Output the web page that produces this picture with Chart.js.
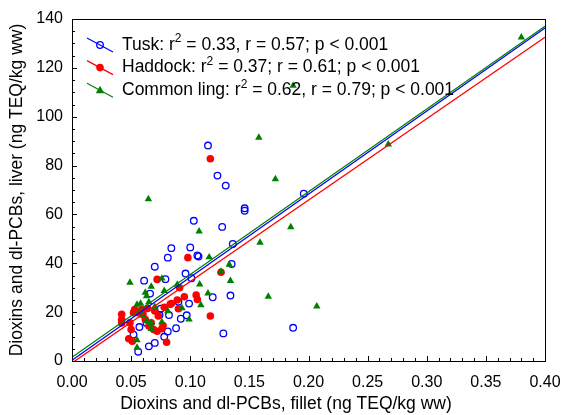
<!DOCTYPE html>
<html>
<head>
<meta charset="utf-8">
<script src="https://cdn.jsdelivr.net/npm/chart.js@4"></script>
<style>
  html, body { margin: 0; padding: 0; background: #fff; }
  #wrap { width: 566px; height: 415px; }
</style>
</head>
<body>
<div id="wrap"><canvas id="myChart" width="566" height="415"></canvas></div>
<script>
// fillet (x) vs liver (y), ng TEQ/kg ww
var tusk = [
  [0.115,88.2],[0.123,75.9],[0.130,71.8],[0.146,61.5],[0.146,62.5],[0.103,57.4],
  [0.127,54.9],[0.196,68.5],[0.136,47.9],[0.135,39.7],[0.084,46.2],[0.081,42.3],
  [0.100,46.5],[0.106,43.2],[0.107,42.8],[0.070,38.6],[0.096,35.8],[0.101,33.9],
  [0.061,32.9],[0.079,33.5],[0.066,27.6],[0.119,26.1],[0.134,26.8],[0.099,23.5],
  [0.090,24.3],[0.075,21.4],[0.092,17.3],[0.097,18.7],[0.082,18.8],[0.088,13.4],
  [0.081,12.1],[0.078,9.9],[0.070,7.4],[0.065,6.0],[0.056,3.8],[0.052,10.8],
  [0.057,13.9],[0.063,15.6],[0.074,18.8],[0.128,11.3],[0.187,13.6]
];
var haddock = [
  [0.117,82.8],[0.098,42.3],[0.126,36.3],[0.072,33.4],[0.091,30.0],[0.105,27.0],
  [0.106,25.2],[0.117,18.4],[0.089,25.0],[0.090,21.4],[0.084,23.5],[0.095,26.3],
  [0.073,18.4],[0.076,13.2],[0.072,12.2],[0.080,7.7],[0.042,19.1],[0.042,17.0],
  [0.042,15.6],[0.048,9.1],[0.051,8.1],[0.053,21.1],[0.056,19.8],[0.052,19.8],
  [0.059,21.1],[0.049,15.6],[0.062,17.0],[0.065,14.3],[0.069,12.9],[0.083,23.2],
  [0.050,12.9],[0.077,14.5],[0.067,15.6],[0.060,19.0],[0.064,21.5],[0.070,20.5],
  [0.078,22.0]
];
var ling = [
  [0.0646,66.3],[0.1075,53.1],[0.158,91.5],[0.172,74.5],[0.185,54.8],[0.159,48.5],
  [0.2675,88.7],[0.166,26.4],[0.207,22.4],[0.380,132.5],[0.187,112.7],[0.049,32.1],
  [0.076,33.8],[0.067,30.5],[0.078,28.7],[0.062,28.0],[0.063,26.6],[0.089,31.3],
  [0.116,42.5],[0.133,39.5],[0.126,36.6],[0.134,32.8],[0.108,31.4],[0.115,27.7],
  [0.109,22.9],[0.093,21.7],[0.081,20.4],[0.099,17.0],[0.058,23.5],[0.055,23.1],
  [0.065,24.1],[0.070,22.2],[0.067,15.6],[0.067,13.2],[0.076,15.9],[0.055,8.6],
  [0.055,5.5],[0.0595,18.7],[0.063,16.3]
];

// regression lines, read at x = 0 and x = 0.40
var fitX = [0, 0.40];
var tuskFit = [0.3, 136.3];
var haddockFit = [-0.8, 132.5];
var lingFit = [1.5, 137.0];

var legendText = [
  ['Tusk: r', '2', ' = 0.33, r = 0.57; p < 0.001'],
  ['Haddock: r', '2', ' = 0.37; r = 0.61; p < 0.001'],
  ['Common ling: r', '2', ' = 0.62, r = 0.79; p < 0.001']
];
var xTitle = 'Dioxins and dl-PCBs, fillet (ng TEQ/kg ww)';
var yTitle = 'Dioxins and dl-PCBs, liver (ng TEQ/kg ww)';

var BLUE = '#0000ff', RED = '#ff0000', GREEN = '#008000';
var FONT = 'Arial, "Liberation Sans", sans-serif';

function pts(arr) { return arr.map(function (p) { return {x: p[0], y: p[1]}; }); }
function fit(ys) { return fitX.map(function (x, i) { return {x: x, y: ys[i]}; }); }

function drawMarker(c, kind, x, y) {
  c.save();
  if (kind === 0) {
    c.strokeStyle = BLUE; c.lineWidth = 1.3;
    c.beginPath(); c.arc(x, y, 3.3, 0, Math.PI * 2); c.stroke();
  } else if (kind === 1) {
    c.fillStyle = RED;
    c.beginPath(); c.arc(x, y, 3.8, 0, Math.PI * 2); c.fill();
  } else {
    c.fillStyle = GREEN;
    c.beginPath(); c.moveTo(x, y - 4.5); c.lineTo(x + 4.2, y + 3); c.lineTo(x - 4.2, y + 3); c.closePath(); c.fill();
  }
  c.restore();
}

// box, inward ticks, x title and legend
var frame = {
  id: 'frame',
  afterDraw: function (chart) {
    var c = chart.ctx, a = chart.chartArea;
    var xs = chart.scales.x, ys = chart.scales.y;
    c.save();
    c.strokeStyle = '#000';
    c.lineWidth = 1;
    c.strokeRect(Math.round(a.left) + 0.5, Math.round(a.top) + 0.5,
      Math.round(a.right - a.left), Math.round(a.bottom - a.top));
    c.beginPath();
    for (var i = 0; i <= 40; i++) {
      var px = Math.round(xs.getPixelForValue(i / 100)) + 0.5;
      var len = (i % 5 === 0) ? 5 : 3;
      c.moveTo(px, a.bottom); c.lineTo(px, a.bottom - len);
    }
    for (var j = 0; j <= 28; j++) {
      var py = Math.round(ys.getPixelForValue(j * 5)) + 0.5;
      var l2 = (j % 4 === 0) ? 5 : 3;
      c.moveTo(a.left, py); c.lineTo(a.left + l2, py);
    }
    c.stroke();

    c.fillStyle = '#000';
    c.textBaseline = 'middle';
    c.textAlign = 'center';
    c.font = '17.5px ' + FONT;
    c.fillText(xTitle, 286, 404);
    c.textAlign = 'left';

    var cols = [BLUE, RED, GREEN];
    for (var k = 0; k < 3; k++) {
      var cy = 45 + k * 22.6;
      c.strokeStyle = cols[k]; c.lineWidth = 1.2;
      c.beginPath(); c.moveTo(87, cy - 7); c.lineTo(113, cy + 7); c.stroke();
      drawMarker(c, k, 100, cy);
      var t = legendText[k], x0 = 122;
      c.fillStyle = '#000';
      c.font = '17.5px ' + FONT;
      c.fillText(t[0], x0, cy); x0 += c.measureText(t[0]).width;
      c.font = '12px ' + FONT;
      c.fillText(t[1], x0, cy - 6); x0 += c.measureText(t[1]).width;
      c.font = '17.5px ' + FONT;
      c.fillText(t[2], x0, cy);
    }
    c.restore();
  }
};

var pointDs = function (label, data, color, style, bg, r, order) {
  return {
    label: label, data: pts(data), showLine: false, order: order,
    pointStyle: style, pointRadius: r, pointHoverRadius: r,
    borderColor: color, backgroundColor: bg, pointBorderWidth: bg === 'rgba(0,0,0,0)' ? 1.3 : 0
  };
};
var lineDs = function (label, ys, color, order) {
  return {
    label: label, data: fit(ys), showLine: true, order: order,
    pointRadius: 0, borderColor: color, borderWidth: 1.3, fill: false
  };
};

var ctx = document.getElementById('myChart').getContext('2d');
var myChart = new Chart(ctx, {
  type: 'scatter',
  data: {
    datasets: [
      lineDs('Common ling fit', lingFit, GREEN, 0),
      lineDs('Tusk fit', tuskFit, BLUE, 1),
      lineDs('Haddock fit', haddockFit, RED, 2),
      pointDs('Common ling', ling, GREEN, 'triangle', GREEN, 4.3, 3),
      pointDs('Haddock', haddock, RED, 'circle', RED, 3.8, 4),
      pointDs('Tusk', tusk, BLUE, 'circle', 'rgba(0,0,0,0)', 3.3, 5)
    ]
  },
  options: {
    responsive: false,
    animation: false,
    layout: { padding: { top: 19, right: 21, left: 0, bottom: 0 } },
    plugins: { legend: { display: false }, tooltip: { enabled: false } },
    scales: {
      x: {
        type: 'linear', min: 0, max: 0.4,
        afterFit: function (s) { s.height = 54; s.paddingRight = 0; s.paddingLeft = 0; },
        grid: { display: false, drawTicks: false },
        border: { display: false },
        ticks: {
          stepSize: 0.05, padding: 12, color: '#000', maxRotation: 0,
          font: { family: FONT, size: 16 },
          callback: function (v) { return v.toFixed(2); }
        }
      },
      y: {
        type: 'linear', min: 0, max: 140,
        afterFit: function (s) { s.width = 72; },
        grid: { display: false, drawTicks: false },
        border: { display: false },
        ticks: { stepSize: 20, padding: 9, color: '#000', font: { family: FONT, size: 16 } },
        title: {
          display: true, text: yTitle,
          color: '#000', font: { family: FONT, size: 17.5 }, padding: { top: 7, bottom: 0 }
        }
      }
    }
  },
  plugins: [frame]
});
</script>
</body>
</html>
